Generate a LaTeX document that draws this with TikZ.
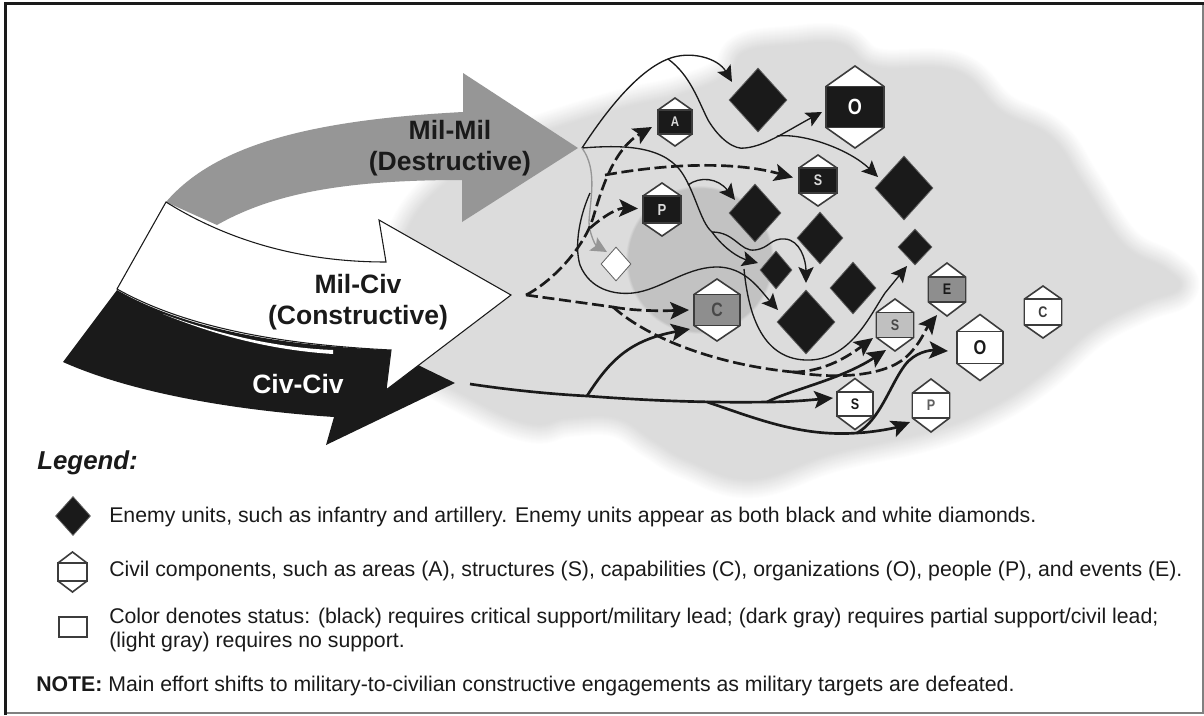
\documentclass[tikz,border=0pt]{standalone}
\usepackage{fontspec}
\setmainfont{Liberation Sans}
\usetikzlibrary{arrows.meta,calc,shapes.geometric}
\definecolor{ink}{HTML}{1A1A1A}
\definecolor{blobgray}{HTML}{DCDCDC}
\definecolor{innergray}{HTML}{C2C2C2}
\definecolor{arrowgray}{HTML}{969696}
\definecolor{hexdark}{HTML}{8E8E8E}
\definecolor{hexlight}{HTML}{C0C0C0}
\newcommand\nrw[1]{\scalebox{.82}[1]{#1}}
\tikzset{
  hexline/.style={draw=ink!85!white,line width=1.2pt,line join=miter},
  thinarrow/.style={draw=ink,line width=1pt,-{Stealth[length=12pt,width=11.5pt,inset=2.5pt]}},
  thinline/.style={draw=ink,line width=1pt},
  grayarrow/.style={draw=arrowgray,line width=1pt,-{Stealth[length=12pt,width=11.5pt,inset=2.5pt]}},
  thickarrow/.style={draw=ink,line width=2pt,-{Stealth[length=14pt,width=13pt,inset=3pt]}},
  thickline/.style={draw=ink,line width=2pt},
  dasharrow/.style={draw=ink,line width=2pt,dash pattern=on 9pt off 3.5pt,-{Stealth[length=14pt,width=13pt,inset=3pt]}},
  dashline/.style={draw=ink,line width=2pt,dash pattern=on 9pt off 3.5pt},
  diam/.style={shape=diamond,inner sep=0pt,draw=ink!70!white,line width=.6pt,fill=ink},
  lbl/.style={inner sep=0pt,font=\bfseries\fontsize{#1}{#1}\selectfont},
  legendtext/.style={anchor=west,inner sep=0pt,align=left,font=\fontsize{15.95}{18}\selectfont},
  effort/.style={inner sep=0pt,align=center,font=\bfseries\fontsize{19.9}{23}\selectfont},
}
% name, cx, cy, half width, half height, band half height, band fill, label style, label
\newcommand\hexnode[9]{%
  \path[hexline,fill=white] (#2,{#3-#5}) -- ({#2+#4},{#3-#6}) -- ({#2+#4},{#3+#6}) -- (#2,{#3+#5}) -- ({#2-#4},{#3+#6}) -- ({#2-#4},{#3-#6}) -- cycle;
  \path[hexline,fill=#7] ({#2-#4},{#3-#6}) rectangle ({#2+#4},{#3+#6});
  \node[#8] (#1) at (#2,#3) {#9};
}
% name, cx, cy, half width, half height, fill
\newcommand\diamnode[6]{%
  \node[diam,fill=#6,minimum width={2*#4*0.75pt},minimum height={2*#5*0.75pt}] (#1) at (#2,#3) {};
}
\newcommand\blobpath{plot[smooth cycle,tension=.7] coordinates {(560,128) (627,108) (680,96) (728,76) (745,53) (790,46) (840,45) (875,68) (955,72) (1000,112) (1050,138) (1082,185) (1122,245) (1165,270) (1178,288) (1142,302) (1092,328) (1042,372) (992,405) (930,430) (833,452) (752,478) (690,460) (655,440) (617,417) (567,417) (533,423) (480,402) (417,360) (405,300) (410,228) (465,170) (525,141)}}
\begin{document}
\begin{tikzpicture}[x=0.75pt,y=-0.75pt]
\useasboundingbox (0,0) rectangle (1204,715);
\fill[white] (0,0) rectangle (1204,715);
% soft background
\foreach \i in {0,...,19}{
  \pgfmathsetmacro\mixv{(\i+1)*5}
  \pgfmathsetmacro\lw{(40-2*\i)*0.75}
  \draw[line width=\lw pt,line join=round,draw=blobgray!\mixv!white] \blobpath;
}
\fill[blobgray] \blobpath;
\foreach \i in {0,...,5}{
  \pgfmathsetmacro\mixv{\i*20}
  \pgfmathsetmacro\rr{(73-\i*.6+1.5)*0.75}
  \fill[innergray!\mixv!blobgray] (700,260) circle[radius=\rr pt];
}
% big arrows
\fill[ink] (117,290) .. controls (190,332) and (290,346) .. (391,350) -- (422,367) -- (455,383) -- (326,445) -- (334,417) .. controls (230,410) and (130,392) .. (63,362) -- cycle;
\fill[arrowgray] (166,202) .. controls (215,145) and (310,120) .. (463,112) -- (463,73) -- (578,148) -- (462,222) -- (462,180) .. controls (350,180) and (275,192) .. (217,225) -- cycle;
\filldraw[fill=white,draw=ink,line width=.8pt,line join=miter] (166,202) .. controls (235,245) and (310,262) .. (386,262) -- (379,220) -- (511,295) -- (386,390) -- (391,350) .. controls (290,345) and (190,330) .. (117,289) -- cycle;
\fill[white] (163,314) .. controls (220,335) and (280,348) .. (333,350) -- (333,354) .. controls (270,350) and (215,335) .. (163,314) -- cycle;
\node[effort,text=ink] (milmil) at (450,148) {Mil-Mil\\(Destructive)};
\node[effort,text=ink] (milciv) at (358,302) {Mil-Civ\\(Constructive)};
\node[effort,text=white] (civciv) at (298,384) {Civ-Civ};
% enemy units
\diamnode{d1}{758}{100}{29}{32}{ink}
\diamnode{d2}{904}{188}{29}{32}{ink}
\diamnode{d3}{755}{213}{26}{29}{ink}
\diamnode{d4}{820}{238}{23}{26}{ink}
\diamnode{d5}{915}{247}{17}{18}{ink}
\diamnode{d6}{776}{270}{16}{19}{ink}
\diamnode{d7}{853}{288}{23}{26}{ink}
\diamnode{d8}{806}{322}{29}{32}{ink}
\diamnode{w1}{616}{264}{15}{17}{white}
% civil components
\hexnode{oB}{855}{107}{29}{41}{20.5}{ink}{lbl=16.5,text=white}{\nrw{O}}
\hexnode{aB}{675}{122}{17}{24}{12}{ink}{lbl=10.5,text=white!85!black}{\nrw{A}}
\hexnode{sB}{818}{180.5}{19}{25.5}{12.5}{ink}{lbl=11.5,text=white!85!black}{\nrw{S}}
\hexnode{pB}{662}{209.5}{19}{26.5}{13.5}{ink}{lbl=12,text=white!85!black}{\nrw{P}}
\hexnode{cG}{717}{310}{23}{31}{15.5}{hexdark}{lbl=14.5,text=ink!80!white}{\nrw{C}}
\hexnode{eG}{947}{289.5}{18.5}{26.5}{12.5}{hexdark}{lbl=11.5,text=ink}{\nrw{E}}
\hexnode{sG}{895}{325}{18.5}{26}{12.5}{hexlight}{lbl=11.5,text=ink!80!white}{\nrw{S}}
\hexnode{oW}{980}{347.5}{23}{33}{16}{white}{lbl=15,text=ink}{\nrw{O}}
\hexnode{cW}{1043}{312}{18.5}{26}{13}{white}{lbl=11.5,text=ink!85!white}{\nrw{C}}
\hexnode{sW}{855}{404}{18}{25.5}{12}{white}{lbl=11.5,text=ink}{\nrw{S}}
\hexnode{pW}{931}{405.5}{18.5}{26.5}{12.5}{white}{lbl=11.5,text=ink!70!white}{\nrw{P}}
% junctions
\coordinate (j0) at (582,148);
\coordinate (top) at (668,59);
\coordinate (mid) at (777,136);
\coordinate (b1) at (712,232);
\coordinate (b2) at (688,185);
\coordinate (g1) at (590,193);
\coordinate (b3) at (744,269);
\coordinate (j1) at (526,295);
\coordinate (k1) at (605,175);
\coordinate (k2) at (590,228);
\coordinate (k3) at (613,307);
\coordinate (k4) at (793,372);
\coordinate (j2) at (470,384);
\coordinate (m1) at (587,396);
\coordinate (m2) at (707,402);
\coordinate (m3) at (767,402);
\coordinate (m4) at (857,433);
% thin connectors
\draw[thinline] (j0) .. controls (610,105) and (640,70) .. (top);
\draw[thinarrow] (top) .. controls (690,50) and (718,58) .. ($(d1.center)+(-26,-18)$);
\draw[thinarrow] (top) .. controls (690,75) and (698,100) .. (708,120) .. controls (720,140) and (735,150) .. (745,148) .. controls (765,146) and (785,132) .. ($(oB.center)+(-33,5)$);
\draw[thinarrow] (mid) .. controls (805,133) and (850,150) .. ($(d2.center)+(-26,-11)$);
\draw[thinarrow] (j0) .. controls (620,145) and (660,145) .. (680,170) .. controls (695,190) and (700,222) .. (b1) .. controls (725,250) and (740,258) .. ($(d6.center)+(-18,-7)$);
\draw[thinarrow] (b1) .. controls (735,232) and (740,252) .. (755,250) .. controls (770,248) and (770,238) .. (785,239) .. controls (800,240) and (806,260) .. ($(d8.center)+(0,-39)$);
\draw[thinarrow] (b2) .. controls (700,176) and (718,178) .. ($(d3.center)+(-20,-13)$);
\draw[grayarrow] (j0) .. controls (598,170) and (590,200) .. (589,222) .. controls (589,232) and (595,245) .. ($(w1.center)+(-9,-12)$);
\draw[thinarrow] (g1) .. controls (580,215) and (574,245) .. (580,265) .. controls (590,290) and (615,295) .. (633,293) .. controls (660,290) and (685,268) .. (715,267) .. controls (745,266) and (760,290) .. ($(d8.center)+(-28,-12)$);
\draw[thinarrow] (b3) .. controls (748,310) and (760,358) .. (805,360) .. controls (850,362) and (870,315) .. (885,293) -- ($(d5.center)+(-8,19)$);
% dashed connectors
\draw[dasharrow] (j1) .. controls (555,280) and (585,245) .. (593,218) .. controls (600,195) and (612,150) .. ($(aB.center)+(-23,5)$);
\draw[dasharrow] (k1) .. controls (660,165) and (730,160) .. ($(sB.center)+(-25,-3)$);
\draw[dasharrow] (k2) .. controls (605,215) and (618,208) .. ($(pB.center)+(-24,-1)$);
\draw[dashline] (j1) -- (k3);
\draw[dasharrow] (k3) .. controls (635,311) and (660,311) .. ($(cG.center)+(-28,0)$);
\draw[dashline] (k3) .. controls (650,340) and (720,365) .. (k4);
\draw[dasharrow] (k4) .. controls (825,372) and (850,355) .. ($(sG.center)+(-22,13)$);
\draw[dasharrow] (k4) .. controls (840,380) and (885,375) .. (905,358) .. controls (920,345) and (925,330) .. ($(eG.center)+(-10,25.5)$);
% thick connectors
\draw[thickline] (j2) .. controls (510,390) and (550,394) .. (m1);
\draw[thickline] (m1) .. controls (640,400) and (700,403) .. (m3);
\draw[thickarrow] (m3) .. controls (790,402) and (810,400) .. ($(sW.center)+(-22,-6)$);
\draw[thickarrow] (m1) .. controls (610,360) and (630,340) .. ($(cG.center)+(-27,19)$);
\draw[thickarrow] (m3) .. controls (790,390) and (840,380) .. ($(sG.center)+(-9,25)$);
\draw[thickarrow] (m2) .. controls (755,418) and (800,437) .. (m4) .. controls (875,432) and (895,428) .. ($(pW.center)+(-21,16.5)$);
\draw[thickarrow] (m4) .. controls (880,420) and (890,385) .. (905,365) .. controls (915,352) and (930,350) .. ($(oW.center)+(-32,3.5)$);
% legend
\node[anchor=west,inner sep=0pt,font=\bfseries\itshape\fontsize{19.4}{22}\selectfont,text=ink] (legend) at (37,463) {Legend:};
\diamnode{lg1}{73}{516}{17.5}{19.5}{ink}
\hexnode{lg2}{72.5}{572}{14.5}{20}{9}{white}{inner sep=0pt}{}
\node[draw=ink!85!white,line width=1.2pt,fill=white,inner sep=0pt,minimum width=21pt,minimum height=15pt] (lg3) at (73,627) {};
\node[legendtext,text=ink] (t1) at (109,517) {Enemy units, such as infantry and artillery. Enemy units appear as both black and white diamonds.};
\node[legendtext,text=ink] (t2) at (109,571) {Civil components, such as areas (A), structures (S), capabilities (C), organizations (O), people (P), and events (E).};
\node[legendtext,text=ink] (t3) at (109,630) {Color denotes status: (black) requires critical support/military lead; (dark gray) requires partial support/civil lead;\\(light gray) requires no support.};
\node[legendtext,text=ink] (t4) at (36,686) {\textbf{NOTE:} Main effort shifts to military-to-civilian constructive engagements as military targets are defeated.};
% frame
\draw[draw=gray,line width=1.1pt] (1203,3.5) -- (1203,713) -- (5.5,713);
\draw[draw=ink,line width=2.3pt] (5.5,715) -- (5.5,3.5) -- (1204,3.5);
\end{tikzpicture}
\end{document}
